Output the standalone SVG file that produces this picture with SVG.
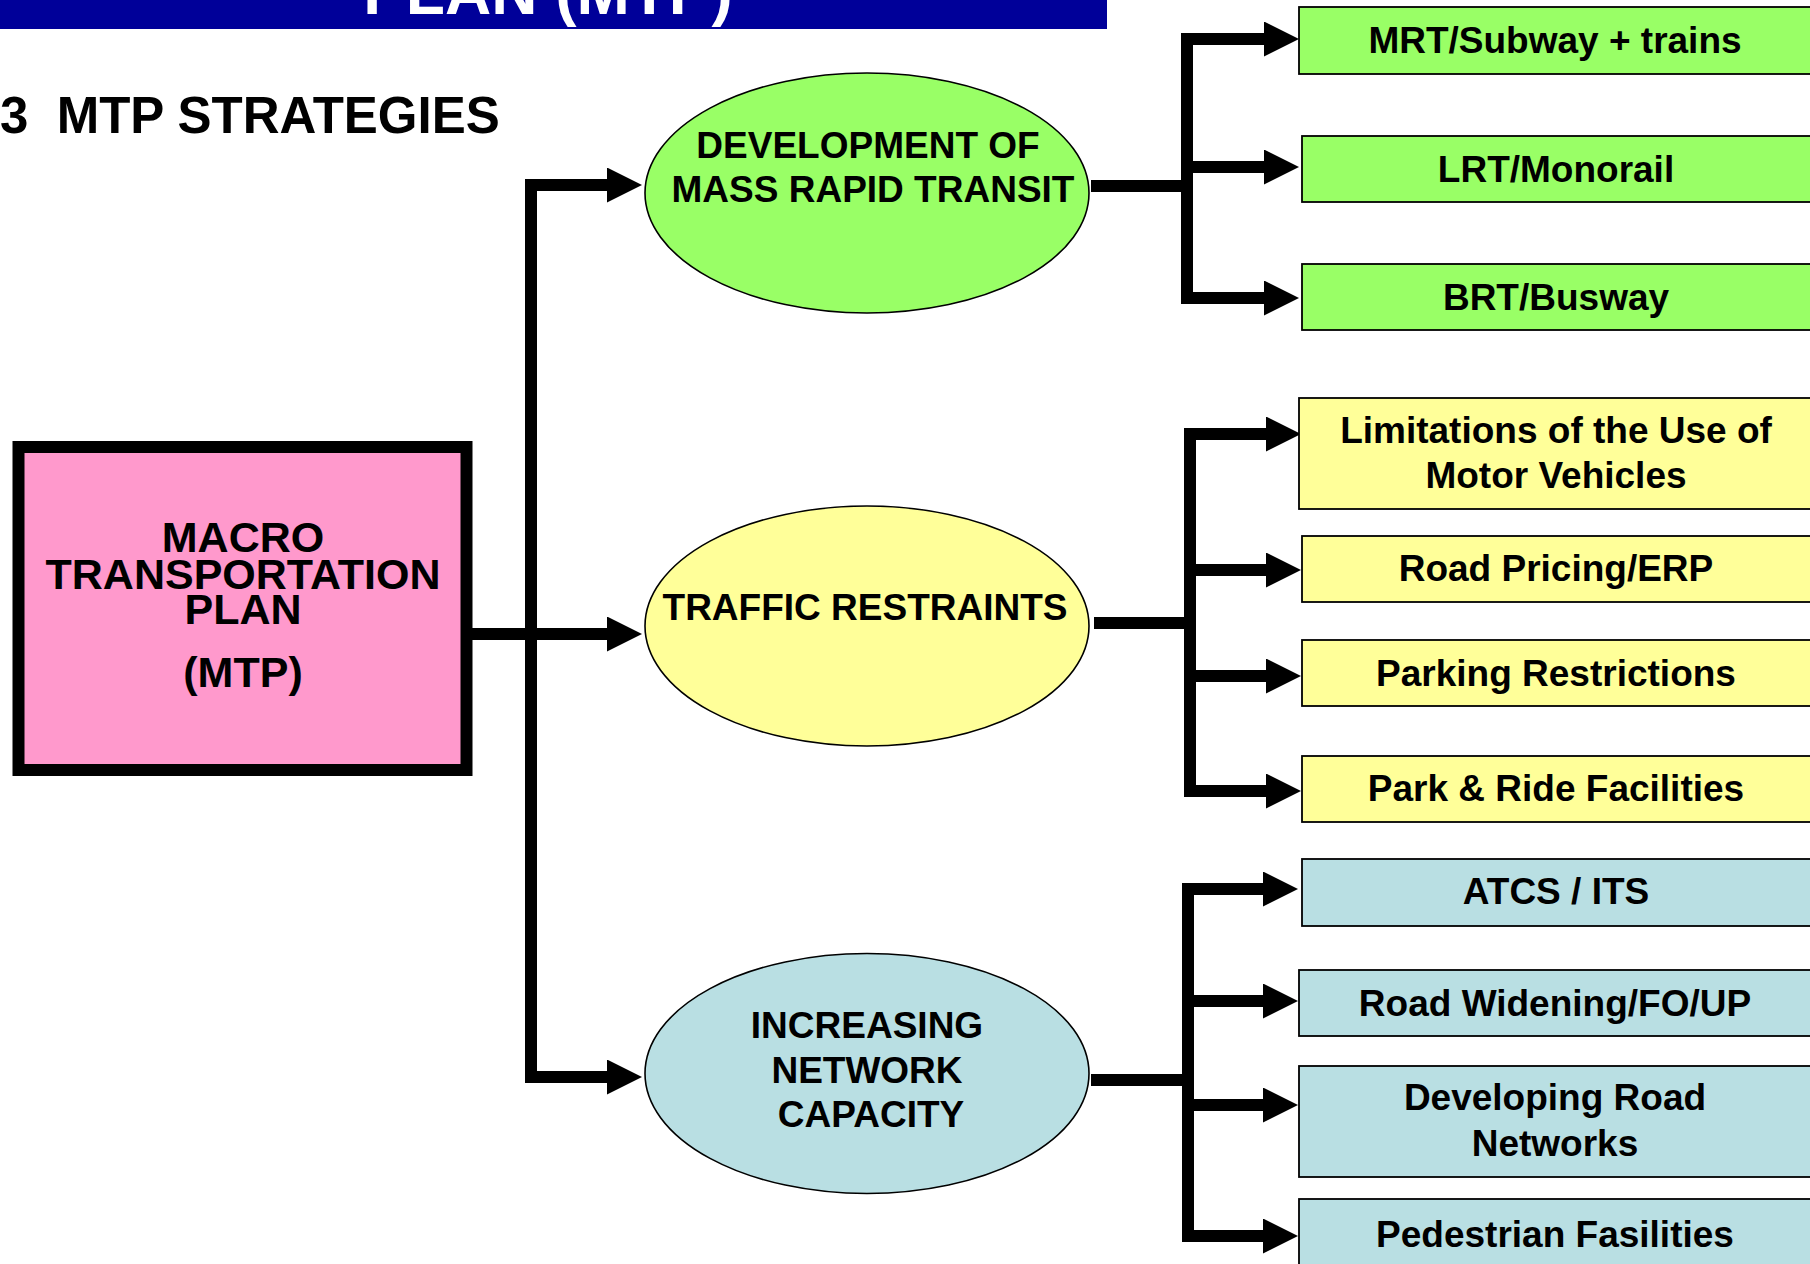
<svg xmlns="http://www.w3.org/2000/svg" width="1810" height="1264" viewBox="0 0 1810 1264">
<defs>
<marker id="ah" markerUnits="userSpaceOnUse" markerWidth="36" markerHeight="36" refX="0" refY="17.5" orient="auto">
<path d="M0,0 L35,17.5 L0,35 Z" fill="#000"/>
</marker>
<style>
.t{font-family:"Liberation Sans",Arial,sans-serif;font-weight:bold;fill:#000;text-anchor:middle}
.b{font-size:37px}
.m{font-size:43px}
.e{stroke:#000;stroke-width:1.6}
.bx{stroke:#000;stroke-width:1.8}
.g{fill:#99FF66}.y{fill:#FFFF99}.c{fill:#B9DFE3}
.ln{fill:none;stroke:#000;stroke-width:12;stroke-linecap:butt;stroke-linejoin:miter}
.ar{fill:none;stroke:#000;stroke-width:12;marker-end:url(#ah)}
</style>
</defs>
<rect x="0" y="0" width="1107" height="29" fill="#000099"/>
<text x="548" y="14" class="t" style="fill:#fff;font-size:64px">PLAN (MTP)</text>
<text x="0" y="133" class="t" style="font-size:51px;text-anchor:start" xml:space="preserve">3  MTP STRATEGIES</text>

<g id="connectors">
<path class="ln" d="M531,179 V1083"/>
<path class="ar" d="M525,185 H607"/>
<path class="ar" d="M472,634 H607"/>
<path class="ar" d="M525,1077 H607"/>
<path class="ln" d="M1091,186 H1187"/>
<path class="ln" d="M1187,33 V304"/>
<path class="ar" d="M1181,39 H1264"/>
<path class="ar" d="M1187,167 H1264"/>
<path class="ar" d="M1181,298 H1264"/>
<path class="ln" d="M1094,623 H1190"/>
<path class="ln" d="M1190,428 V797"/>
<path class="ar" d="M1184,434 H1266"/>
<path class="ar" d="M1190,570 H1266"/>
<path class="ar" d="M1190,676 H1266"/>
<path class="ar" d="M1184,791 H1266"/>
<path class="ln" d="M1091,1080 H1188"/>
<path class="ln" d="M1188,883 V1242"/>
<path class="ar" d="M1182,889 H1263"/>
<path class="ar" d="M1188,1001 H1263"/>
<path class="ar" d="M1188,1105 H1263"/>
<path class="ar" d="M1182,1236 H1263"/>
</g>

<g id="mtp">
<rect x="18.5" y="447" width="448" height="323" fill="#FF99CC" stroke="#000" stroke-width="12"/>
<text class="t m" x="243" y="552">MACRO</text>
<text class="t m" x="243" y="589">TRANSPORTATION</text>
<text class="t m" x="243" y="624">PLAN</text>
<text class="t m" x="243" y="687">(MTP)</text>
</g>

<g id="mrt">
<ellipse cx="867" cy="193" rx="222" ry="120" class="e g"/>
<text class="t b" x="868" y="158">DEVELOPMENT OF</text>
<text class="t b" x="873" y="202">MASS RAPID TRANSIT</text>
</g>
<g id="restraints">
<ellipse cx="867" cy="626" rx="222" ry="120" class="e y"/>
<text class="t b" x="865" y="620">TRAFFIC RESTRAINTS</text>
</g>
<g id="capacity">
<ellipse cx="867" cy="1073.5" rx="222" ry="120" class="e c"/>
<text class="t b" x="867" y="1038">INCREASING</text>
<text class="t b" x="867" y="1083">NETWORK</text>
<text class="t b" x="871" y="1127">CAPACITY</text>
</g>

<g id="b-mrt"><rect x="1299" y="7" width="520" height="67" class="bx g"/><text class="t b" x="1555" y="53">MRT/Subway + trains</text></g>
<g id="b-lrt"><rect x="1302" y="136" width="520" height="66" class="bx g"/><text class="t b" x="1556" y="182">LRT/Monorail</text></g>
<g id="b-brt"><rect x="1302" y="264" width="520" height="66" class="bx g"/><text class="t b" x="1556" y="310">BRT/Busway</text></g>

<g id="b-lim"><rect x="1299" y="398" width="520" height="111" class="bx y"/><text class="t b" x="1556" y="443">Limitations of the Use of</text><text class="t b" x="1556" y="488">Motor Vehicles</text></g>
<g id="b-rp"><rect x="1302" y="536" width="520" height="66" class="bx y"/><text class="t b" x="1556" y="581">Road Pricing/ERP</text></g>
<g id="b-park"><rect x="1302" y="640" width="520" height="66" class="bx y"/><text class="t b" x="1556" y="686">Parking Restrictions</text></g>
<g id="b-pr"><rect x="1302" y="756" width="520" height="66" class="bx y"/><text class="t b" x="1556" y="801">Park &amp; Ride Facilities</text></g>

<g id="b-atcs"><rect x="1302" y="859" width="520" height="67" class="bx c"/><text class="t b" x="1556" y="904">ATCS / ITS</text></g>
<g id="b-rw"><rect x="1299" y="970" width="520" height="66" class="bx c"/><text class="t b" x="1555" y="1016">Road Widening/FO/UP</text></g>
<g id="b-drn"><rect x="1299" y="1066" width="520" height="111" class="bx c"/><text class="t b" x="1555" y="1110">Developing Road</text><text class="t b" x="1555" y="1156">Networks</text></g>
<g id="b-ped"><rect x="1299" y="1199" width="520" height="80" class="bx c"/><text class="t b" x="1555" y="1247">Pedestrian Fasilities</text></g>
</svg>
